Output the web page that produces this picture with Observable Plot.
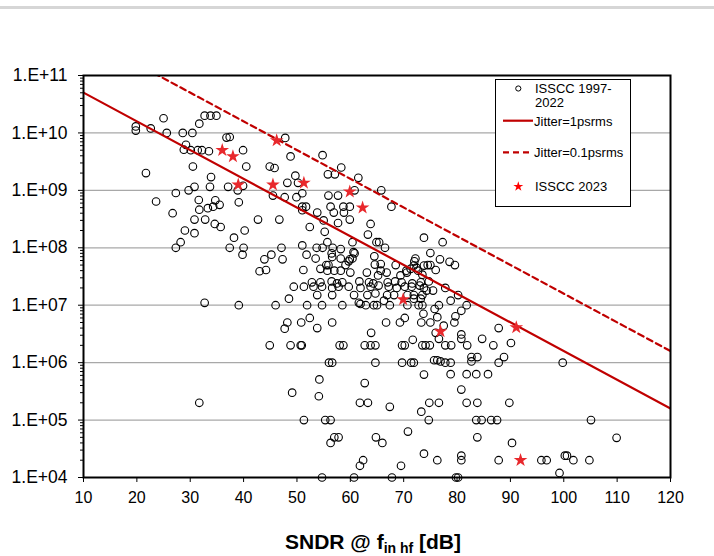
<!DOCTYPE html>
<html><head><meta charset="utf-8">
<script src="https://cdn.jsdelivr.net/npm/d3@7"></script>
<script src="https://cdn.jsdelivr.net/npm/@observablehq/plot@0.6"></script>
<style>
html,body{margin:0;padding:0;background:#fff;}
#wrap{position:relative;width:714px;height:556px;overflow:hidden;}
#bar{position:absolute;left:0;top:6px;width:714px;height:3px;background:#d6d6d6;}
#wrap svg{position:absolute;left:0;top:0;}
</style></head><body><div id="wrap"><div id="bar"></div></div>
<script>
// ---- axis ticks ----
const xTicks = [10,20,30,40,50,60,70,80,90,100,110,120];
const yTicks = [1e4,1e5,1e6,1e7,1e8,1e9,1e10,1e11];
const yTickLabels = ["1.E+04","1.E+05","1.E+06","1.E+07","1.E+08","1.E+09","1.E+10","1.E+11"];

// ---- ISSCC 1997-2022: [SNDR dB, fs] ----
const pastTopLeft = [[19.8,1.3e10],[19.8,1.1e10],[22.6,1.2e10],[25.0,1.8e10],[25.6,1.0e10],[21.7,2.0e9],[23.6,6.4e8],[27.3,9e8],[26.7,4e8],[28.6,1.0e10],[30.4,1.0e10],[31.7,1.45e10],[32.7,2e10],[33.8,2e10],[34.9,2e10],[29.2,6.2e9],[28.8,5.1e9],[30.1,5e9],[31.4,5e9],[32.2,5e9],[33.5,4.8e9],[30.5,2.6e9],[33.9,1.7e9],[30.8,1.15e9],[29.7,1.0e9],[33.7,1.15e9],[31.6,6.8e8],[34.7,6.7e8],[35.5,5.6e8],[34.3,5.2e8],[33.3,4.9e8],[31.7,4.6e8],[32.8,3.1e8],[30.8,3.1e8],[34.6,2.6e8],[35.7,2.3e8],[29.0,2.0e8],[30.8,1.8e8],[28.2,1.25e8],[27.3,1.0e8],[37.4,8.5e9],[36.8,8.3e9],[39.9,5e9],[40.5,2.6e9],[38.9,1.0e9],[39.9,1.2e9],[37.1,1.15e9],[39.1,6.2e8],[38.2,1.5e8],[40.2,2.0e8],[37.4,1e8],[40.0,1e8],[39.8,7.6e7],[32.7,1.1e7],[39.1,1e7],[31.7,2e5]];
const pastMidHigh = [[42.7,3.1e8],[46.7,3.1e8],[44.9,2.6e9],[45.8,2.45e9],[47.8,8.2e9],[48.8,3.9e9],[48.2,1.35e9],[49.7,1.8e9],[50.2,1.35e9],[51.0,8.9e8],[49.9,7.6e8],[45.5,8.1e8],[47.7,7.6e8],[51.0,5.2e8],[51.7,5.2e8],[51.0,4.5e8],[52.4,2.3e8],[47.1,1e8],[51.0,1.1e8]];
const pastMidLow = [[47.3,6.3e7],[45.2,7.6e7],[43.9,6.3e7],[43.0,3.9e7],[44.2,4.1e7],[51.8,7.6e7],[51.2,4.1e7],[49.4,2.1e7],[51.3,2.1e7],[48.5,1.3e7],[46.0,1e7],[51.9,1e7],[48.2,5e6],[47.7,3.9e6],[50.8,5e6],[52.4,6e6],[44.9,2e6],[48.8,2e6],[50.7,2e6],[50.9,2e6],[49.1,3e5],[51.3,1e5],[52.8,2.5e7],[53.1,2.1e7]];
const pastCenterHigh = [[54.8,4.1e9],[58.3,2.5e9],[55.8,1.9e9],[57.1,1.9e9],[61.5,1.65e9],[65.8,1.0e9],[55.9,8.1e8],[57.7,8.1e8],[60.8,1.0e9],[67.7,5.2e8],[56.3,5.2e8],[58.7,5.2e8],[59.9,5.2e8],[53.8,4.1e8],[56.9,4.1e8],[58.8,4.1e8],[55.0,3.0e8],[57.7,2.7e8],[59.9,3.1e8],[63.8,2.6e8],[55.2,1.9e8],[63.3,1.7e8],[55.7,1.25e8],[60.4,1.25e8],[64.9,1.25e8],[65.4,1.25e8],[66.5,1e8],[73.8,1.5e8],[77.3,1.25e8],[53.7,1e8],[54.8,1e8],[56.7,1e8]];
const pastCenter = [[58.2,9.5e7],[56.5,8e7],[60.8,8e7],[60.6,8.4e7],[75.0,8.1e7],[76.8,6.3e7],[78.6,5.7e7],[79.6,5.0e7],[53.5,6.5e7],[58.2,6.5e7],[59.9,6.3e7],[60.4,6.5e7],[56.6,6.9e7],[59.7,5.8e7],[64.5,7.1e7],[64.6,5.1e7],[65.7,5.2e7],[72.2,6.5e7],[72.0,5.8e7],[71.9,4.9e7],[72.4,4.5e7],[72.7,4.0e7],[73.8,4.9e7],[74.5,5.0e7],[75.0,5.0e7],[76.0,4.1e7],[68.5,5e7],[55.5,5e7],[55.9,5e7],[59.1,5e7],[54.4,4.3e7],[55.7,4.0e7],[57.0,4.0e7],[58.2,4.0e7],[60.0,3.7e7],[63.1,3.7e7],[69.4,3.3e7],[70.5,4.0e7],[70.6,3.7e7],[71.3,4.3e7],[65.2,3.3e7],[66.8,3.7e7],[65.7,4.0e7],[67.0,2.5e7],[73.5,3.4e7],[74.7,2.6e7],[73.8,2e7],[75.5,1.8e7],[74.3,1.8e7],[77.8,2e7],[80.2,1.5e7],[78.8,1.2e7],[81.8,1e7],[76.6,1e7]];
const pastBand = [[54.4,2.5e7],[56.5,2.6e7],[57.5,2.4e7],[58.5,2.5e7],[61.7,2.6e7],[63.5,2.5e7],[64.3,2.4e7],[68.4,2.6e7],[69.6,2.5e7],[71.6,2.4e7],[73.2,2.5e7],[54.7,2.1e7],[56.6,2.0e7],[57.8,2.1e7],[59.7,2.1e7],[61.9,2.0e7],[63.8,2.1e7],[65.3,2.2e7],[67.2,2.1e7],[68.7,2.0e7],[70.2,2.1e7],[71.5,2.1e7],[73.0,2.2e7],[53.8,1.5e7],[56.6,1.5e7],[60.7,1.5e7],[63.2,1.5e7],[64.7,1.6e7],[66.9,1.5e7],[68.2,1.5e7],[70.7,1.5e7],[71.9,1.5e7],[73.5,1.5e7],[61.6,1.1e7],[66.3,1.2e7],[71.9,1.3e7],[73.2,1.3e7],[54.7,1e7],[58.5,1e7],[61.9,1.05e7],[62.9,1e7],[64.4,1e7],[65.0,1e7],[67.4,1e7],[70.7,1e7],[72.8,1e7],[73.5,1e7]];
const pastLow = [[56.6,5e6],[53.8,4e6],[63.9,3.3e6],[66.7,5e6],[69.3,5e6],[70.2,6e6],[73.3,5e6],[75.0,5e6],[71.7,2.5e6],[76.0,3.3e6],[76.6,2.6e6],[58.0,2e6],[58.7,2e6],[62.7,2e6],[63.8,2e6],[64.7,2e6],[69.7,2e6],[70.2,2e6],[73.5,2e6],[74.1,2e6],[74.9,2e6],[77.8,2e6],[78.9,2e6],[56.0,1e6],[56.6,1e6],[64.7,1e6],[69.7,1e6],[71.4,1e6],[71.9,1e6],[75.7,1.1e6],[76.3,1.1e6],[76.9,1.05e6],[77.8,1.0e6],[78.8,1.0e6],[73.8,6.2e5],[54.2,5.1e5],[62.7,4.4e5],[54.1,2.6e5],[61.8,2e5],[63.3,2e5],[67.4,1.7e5],[74.8,2e5],[76.6,2e5],[73.3,1.4e5],[55.3,1e5],[56.3,1e5],[74.7,1e5],[70.8,6.3e4],[57.0,5e4],[57.8,5e4],[56.3,4e4],[64.8,5e4],[66.0,4e4],[73.8,2.6e4],[62.4,2e4],[61.8,1.6e4],[69.5,1.6e4],[76.3,2e4],[54.7,1e4],[60.7,1e4],[67.8,1e4],[73.7,7.1e6],[79.5,5e6],[76.3,6.2e6],[80.8,8e6],[79.7,6.4e6],[75.8,8.6e6],[77.5,4.4e6]];
const pastRight = [[87.8,4e6],[80.8,3.1e6],[80.8,2.6e6],[84.7,2.6e6],[81.9,2e6],[86.8,2e6],[90.1,2.2e6],[82.7,1.25e6],[82.7,1.05e6],[83.8,1.25e6],[88.8,1.25e6],[87.8,1.0e6],[99.8,1e6],[78.8,6.3e5],[81.8,6.3e5],[83.6,6.3e5],[85.8,6.3e5],[80.8,3.4e5],[81.8,2e5],[83.8,2e5],[89.8,2e5],[83.6,1e5],[84.6,1e5],[86.4,1e5],[87.5,1e5],[105.1,1e5],[83.8,5e4],[109.9,4.9e4],[90.3,4e4],[80.8,2.4e4],[80.8,2e4],[87.8,2e4],[95.8,2e4],[96.8,2e4],[100.2,2.4e4],[100.6,2.4e4],[101.8,2e4],[104.8,2e4],[99.2,1.2e4],[79.8,1e4],[80.2,1e4]];

// ---- ISSCC 2023 ----
const isscc2023 = [[36.0,5e9],[38.0,3.9e9],[39.0,1.25e9],[45.5,1.25e9],[46.2,7.4e9],[51.3,1.35e9],[59.9,9.5e8],[62.3,5e8],[69.9,1.26e7],[76.9,3.5e6],[91.1,4.1e6],[91.9,2.0e4]];

// ---- jitter limit lines: [SNDR, fs] endpoints ----
const jitter1ps = [[10,5.03e10],[120,1.59e5]];
const jitter01ps = [[10,5.03e11],[120,1.59e6]];

const past = [...pastTopLeft,...pastMidHigh,...pastMidLow,...pastCenterHigh,...pastCenter,...pastBand,...pastLow,...pastRight];
const labelMap = new Map(yTicks.map((t,i)=>[t,yTickLabels[i]]));
const yMinor = d3.range(4,11).flatMap(e => d3.range(2,10).map(m => m*Math.pow(10,e)));
const RED = "#c00000";
const FONT = "'Liberation Sans', Arial, sans-serif";

const chart = Plot.plot({
  width:714, height:556,
  marginLeft:83, marginRight:44, marginTop:75, marginBottom:79,
  style:{fontFamily:FONT, fontSize:"16px", background:"transparent", color:"#000"},
  x:{domain:[10,120]},
  y:{type:"log", domain:[1e4,1e11]},
  marks:[
    Plot.ruleY(yTicks.slice(1,-1), {stroke:"#a8a8a8", strokeWidth:1.3}),
    Plot.axisX({ticks:xTicks, tickSize:5, tickPadding:9, label:null, tickFormat:d=>String(d)}),
    Plot.axisY({ticks:yMinor, tickSize:3, label:null, tickFormat:()=>""}),
    Plot.axisY({ticks:yTicks, tickSize:5, tickPadding:11, label:null, fontSize:17.5, tickFormat:d=>labelMap.get(d)}),
    Plot.dot(past, {x:d=>d[0], y:d=>d[1], r:3.8, stroke:"#000", strokeWidth:1.1, fill:"none"}),
    Plot.line(jitter1ps, {x:d=>d[0], y:d=>d[1], stroke:RED, strokeWidth:2.2, clip:true}),
    Plot.line(jitter01ps, {x:d=>d[0], y:d=>d[1], stroke:RED, strokeWidth:2.2, strokeDasharray:"6,4", clip:true}),
    Plot.dot(isscc2023, {x:d=>d[0], y:d=>d[1], symbol:"star", r:4.3, fill:"#e8282c", stroke:"none"}),
    Plot.frame({stroke:"#000", strokeWidth:2})
  ]
});
document.getElementById("wrap").appendChild(chart);

const svg = d3.select(chart);
// x-axis title
const t = svg.append("text").attr("x",373).attr("y",549).attr("text-anchor","middle")
  .attr("font-family",FONT).attr("font-weight","bold").attr("font-size",21).attr("fill","#000");
t.append("tspan").text("SNDR @ f");
t.append("tspan").attr("font-size",14).attr("dy",4).text("in hf");
t.append("tspan").attr("dy",-4).text(" [dB]");

// legend
const lg = svg.append("g").attr("font-family",FONT).attr("font-size",13).attr("fill","#000").attr("text-anchor","start");
lg.append("rect").attr("x",495.5).attr("y",79.5).attr("width",135).attr("height",127).attr("fill","#fff").attr("stroke","#000").attr("stroke-width",1);
lg.append("circle").attr("cx",518.3).attr("cy",88.5).attr("r",2.6).attr("fill","none").attr("stroke","#000").attr("stroke-width",1);
lg.append("text").attr("x",535).attr("y",92.5).text("ISSCC 1997-");
lg.append("text").attr("x",535).attr("y",106.5).text("2022");
lg.append("line").attr("x1",503).attr("x2",533).attr("y1",120.7).attr("y2",120.7).attr("stroke",RED).attr("stroke-width",2.2);
lg.append("text").attr("x",534).attr("y",125.5).text("Jitter=1psrms");
lg.append("line").attr("x1",503).attr("x2",533).attr("y1",152.3).attr("y2",152.3).attr("stroke",RED).attr("stroke-width",2.2).attr("stroke-dasharray","6,4");
lg.append("text").attr("x",534).attr("y",156.5).text("Jitter=0.1psrms");
lg.append("path").attr("d",d3.symbol(d3.symbolStar,31)()).attr("transform","translate(518.3,186.5)").attr("fill","#ff0000");
lg.append("text").attr("x",535).attr("y",190.5).text("ISSCC 2023");
</script></body></html>
